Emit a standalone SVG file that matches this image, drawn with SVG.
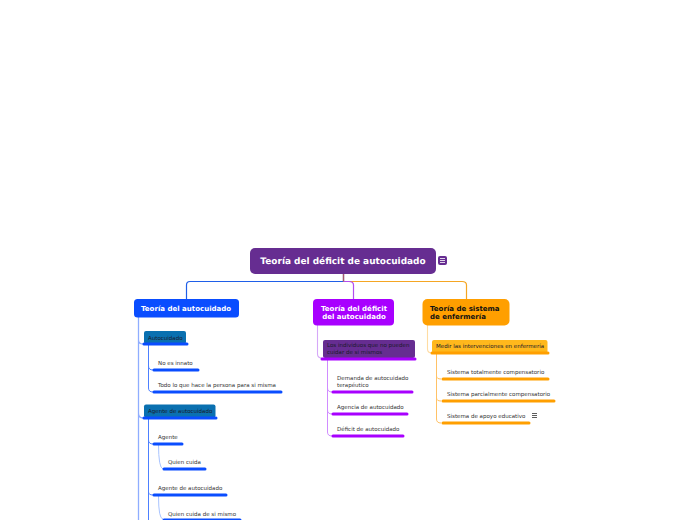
<svg xmlns="http://www.w3.org/2000/svg" width="696" height="520" viewBox="0 0 696 520">
<style>
text{font-family:"DejaVu Sans",Verdana,sans-serif;text-rendering:geometricPrecision}
.t{font-size:5.52px;fill:#333}
.s{font-size:5.52px;fill:#1a1a2a}
.m{font-size:7.02px;font-weight:bold;fill:#fff}
.c{fill:none;stroke-linecap:round}
.bu{stroke:#0a4dff;stroke-width:3}
.pu{stroke:#a800ff;stroke-width:3}
.or{stroke:#ff9f00;stroke-width:3}
</style>
<rect width="696" height="520" fill="#fff"/>
<g id="connectors" fill="none">
<path d="M343.500 273V281.500H190Q186.500 281.500 186.500 285V299" stroke="#1f5fe8" stroke-width="1.2"/>
<path d="M343.500 281.500H462Q466.500 281.500 466.500 285V299" stroke="#f5a623" stroke-width="1.2"/>
<path d="M343.500 281.500H349Q353.500 281.500 353.500 285V299" stroke="#b44cf0" stroke-width="1.2"/>
<path d="M343.500 273V281.500" stroke="#a85a6a" stroke-width="1.4"/>
<path d="M138.500 317V520M138.500 340Q138.500 344 143 344M138.500 413Q138.500 418 143 418" stroke="#8fadff" stroke-width="1.3"/>
<path d="M148.500 345V388Q148.500 392 153 392M148.500 366Q148.500 370 153 370" stroke="#4d80ff" stroke-width="1"/>
<path d="M148.500 418V520M148.500 440Q148.500 444 153 444M148.500 492Q148.500 495 153 495" stroke="#4d80ff" stroke-width="1"/>
<path d="M158.500 444Q158.500 468 163 469M158.500 496Q158.500 519 163 519" stroke="#a9c4ff" stroke-width="1"/>
<path d="M317.500 325V354Q317.500 358 322 358" stroke="#d6a8f8" stroke-width="1.1"/>
<path d="M327.500 359V432Q327.500 436 332 436M327.500 388Q327.500 392 332 392M327.500 410Q327.500 414 332 414" stroke="#d08cff" stroke-width="1"/>
<path d="M427.500 325V349Q427.500 353 432 353" stroke="#ffdca3" stroke-width="1.1"/>
<path d="M436.500 354V419Q436.500 423 441 423M436.500 376Q436.500 379 441 379M436.500 398Q436.500 401 441 401" stroke="#ffc266" stroke-width="1"/>
</g>
<g id="root"><rect x="250" y="248" width="186" height="26" rx="5" fill="#662d91"/><text x="343" y="264" text-anchor="middle" font-size="8.95" font-weight="bold" fill="#fff">Teoría del déficit de autocuidado</text></g>
<g id="root-note"><rect x="438" y="256" width="9" height="9" rx="2" fill="#662d91"/><path d="M440 258.500h5M440 260.500h5M440 262.500h5" stroke="#fff" stroke-width=".8"/></g>
<g id="n1"><rect x="134" y="299" width="105" height="18.500" rx="3.500" fill="#0a4dff"/><text class="m" x="141" y="311">Teoría del autocuidado</text></g>
<g id="n2"><rect x="313" y="299" width="81" height="26.500" rx="4" fill="#a800ff"/><text class="m" x="354" y="311" text-anchor="middle">Teoría del déficit</text><text class="m" x="354" y="319" text-anchor="middle">del autocuidado</text></g>
<g id="n3"><rect x="422.500" y="299" width="87" height="26.500" rx="5" fill="#ff9f00"/><text class="m" x="430" y="311" style="fill:#111">Teoría de sistema</text><text class="m" x="430" y="319" style="fill:#111">de enfermería</text></g>
<g id="n4"><rect x="144" y="331" width="42" height="13" rx="2" fill="#0a70b0"/><path class="c bu" d="M144 344H187"/><text class="s" x="148" y="339.500">Autocuidado</text></g>
<g id="n5"><text class="t" x="158" y="365">No es innato</text><path class="c bu" d="M154 370H198"/></g>
<g id="n6"><text class="t" x="158" y="387">Todo lo que hace la persona para si misma</text><path class="c bu" d="M154 392H281"/></g>
<g id="n7"><rect x="144" y="404.500" width="71.500" height="13" rx="2" fill="#0a70b0"/><path class="c bu" d="M144 418H216"/><text class="s" x="148" y="413">Agente de autocuidado</text></g>
<g id="n8"><text class="t" x="158" y="439">Agente</text><path class="c bu" d="M154 444H182"/></g>
<g id="n9"><text class="t" x="168" y="464">Quien cuida</text><path class="c bu" d="M164 469H205"/></g>
<g id="n10"><text class="t" x="158" y="490">Agente de autocuidado</text><path class="c bu" d="M154 495H226"/></g>
<g id="n11"><text class="t" x="168" y="516">Quien cuida de si mismo</text><path class="c bu" d="M164 520H240"/></g>
<g id="n12"><rect x="323" y="340" width="92" height="18" rx="2" fill="#662d91"/><path class="c pu" d="M322 359H415"/><text class="s" x="327" y="347">Los individuos que no pueden</text><text class="s" x="327" y="353.500">cuidar de si mismos</text></g>
<g id="n13"><text class="t" x="337" y="380">Demanda de autocuidado</text><text class="t" x="337" y="387">terapéutico</text><path class="c pu" d="M333 392H412"/></g>
<g id="n14"><text class="t" x="337" y="409">Agencia de autocuidado</text><path class="c pu" d="M333 414H407"/></g>
<g id="n15"><text class="t" x="337" y="431">Déficit de autocuidado</text><path class="c pu" d="M333 436H403"/></g>
<g id="n16"><rect x="432" y="340" width="115.500" height="13" rx="2" fill="#ffb81c"/><path class="c or" d="M432 353H548"/><text class="s" x="436" y="348">Medir las intervenciones en enfermería</text></g>
<g id="n17"><text class="t" x="447" y="374">Sistema totalmente compensatorio</text><path class="c or" d="M443 379H548"/></g>
<g id="n18"><text class="t" x="447" y="396">Sistema parcialmente compensatorio</text><path class="c or" d="M443 401H554"/></g>
<g id="n19"><text class="t" x="447" y="418">Sistema de apoyo educativo</text><path class="c or" d="M443 423H529"/><path d="M532 413.500h5M532 415.500h5M532 417.500h5" stroke="#333" stroke-width=".8"/></g>
</svg>
